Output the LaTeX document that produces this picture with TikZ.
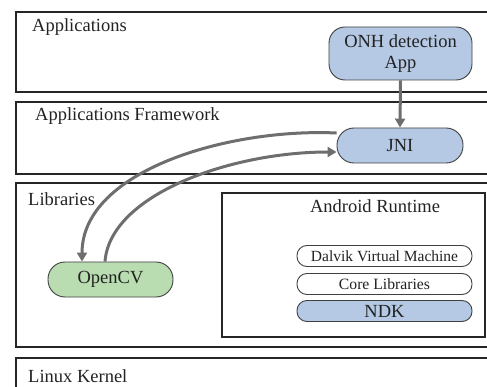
\documentclass[tikz,border=0pt]{standalone}
\usepackage{fontspec}
\setmainfont{Liberation Serif}
\usetikzlibrary{arrows.meta,calc}
\definecolor{boxblue}{HTML}{B5C9E4}
\definecolor{boxgreen}{HTML}{B9DDB0}
\definecolor{arrgray}{HTML}{6E6E6E}
\definecolor{txt}{HTML}{222222}
\tikzset{
  layer/.style={draw=black!85, line width=1.6pt},
  lbl/.style={anchor=base west, inner sep=0pt, text=txt, font=\fontsize{18.5}{21}\selectfont},
  pill/.style={draw=black!75, line width=0.9pt, rounded corners=#1, inner sep=0pt, text=txt, align=center},
  conn/.style={draw=arrgray, line width=3pt, -{Triangle[length=9pt,width=10pt]}},
}
\begin{document}
\begin{tikzpicture}[x=1pt,y=-1pt]
\useasboundingbox (0,0) rectangle (487,387);
\clip (0,0) rectangle (487,387);
% layers
\draw[layer] (16,12) rectangle (495,92);
\draw[layer] (16,102) rectangle (495,174);
\draw[layer] (16,183) rectangle (495,347);
\draw[layer] (16,358) rectangle (495,400);
\draw[layer, line width=1.3pt] (222,193) rectangle (485,337);
% layer labels
\node[lbl] (tapp) at (32,32) {Applications};
\node[lbl] (tfw) at (35,121) {Applications Framework};
\node[lbl] (tlib) at (28,206) {Libraries};
\node[lbl, anchor=base] (tart) at (375,213) {Android Runtime};
\node[lbl] (tlk) at (28,382) {Linux Kernel};
% nodes
\node[pill=16pt, fill=boxblue, minimum width=143pt, minimum height=53pt, font=\fontsize{18.5}{21}\selectfont] (onh) at (400.5,53.5) {ONH detection\\App};
\node[pill=17pt, fill=boxblue, minimum width=126pt, minimum height=35pt, font=\fontsize{18.5}{21}\selectfont] (jni) at (400,145.5) {JNI};
\node[pill=17pt, fill=boxgreen, minimum width=125pt, minimum height=35pt, font=\fontsize{18.5}{21}\selectfont] (cv) at (110.5,279.5) {OpenCV};
\node[pill=10pt, fill=white, minimum width=175pt, minimum height=21pt, font=\fontsize{15.5}{17}\selectfont] (dvm) at (384.5,256) {Dalvik Virtual Machine};
\node[pill=10pt, fill=white, minimum width=175pt, minimum height=21pt, font=\fontsize{15.7}{17}\selectfont] (core) at (384.5,284) {Core Libraries};
\node[pill=10pt, fill=boxblue, minimum width=175pt, minimum height=21pt, font=\fontsize{18.5}{20}\selectfont] (ndk) at (384.5,311) {NDK};
% connectors
\draw[conn] (onh.south) -- (jni.north);
\draw[conn] ($(jni.west)+(0,-12.5)$) .. controls (230,128) and (82,170) .. ($(cv.north)+(-28.5,0)$);
\draw[conn] ($(cv.north)+(-5.5,0)$) .. controls (110,195) and (230,152) .. ($(jni.west)+(0,6.5)$);
\end{tikzpicture}
\end{document}
